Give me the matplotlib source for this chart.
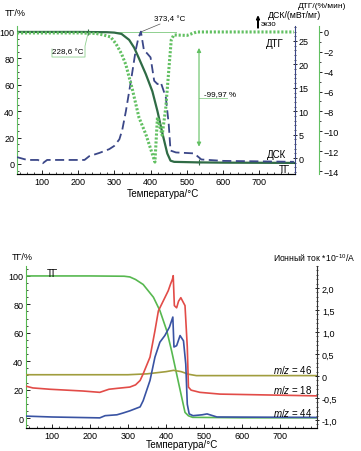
import numpy as np
import matplotlib.pyplot as plt
from matplotlib.patches import FancyArrow
from matplotlib.ticker import MultipleLocator, FixedLocator, FuncFormatter

plt.rcParams['font.family'] = ['Liberation Sans', 'DejaVu Sans']
plt.rcParams['font.size'] = 6.5
plt.rcParams['mathtext.fontset'] = 'custom'
plt.rcParams['mathtext.rm'] = 'Liberation Sans'
plt.rcParams['mathtext.it'] = 'Liberation Sans:italic'

# --- Верхний график: ТГ / ДТГ / ДСК ---
tg1_t = [32, 100, 200, 280, 300, 320, 341, 355, 368, 387, 405, 419, 432, 446, 455, 465, 530, 600, 700, 795]
tg1_v = [100, 100, 100, 99.8, 99.5, 98.5, 94, 88, 80, 68, 55, 40, 24, 8, 2.5, 1.6, 1.2, 1.0, 0.9, 0.8]

dtg_t = [32, 100, 200, 250, 270, 290, 305, 320, 332, 350, 368, 387, 405, 412, 419, 432, 442, 451, 457, 464, 500, 527, 600, 700, 795]
dtg_v = [-0.1, -0.1, -0.1, -0.15, -0.3, -0.5, -1.2, -2.2, -3.3, -5.8, -8.6, -10.3, -12.3, -13.1, -8.6, -10.4, -7.6, -3.5, -0.8, -0.3, -0.35, 0, 0, 0, 0]

dsc_t = [32, 60, 90, 103, 115, 150, 218, 231, 259, 286, 300, 314, 322, 332, 346, 359, 366, 373.4, 382, 390, 400, 410, 419, 428, 442, 450, 455, 470, 520, 540, 600, 700, 795]
dsc_v = [0.2, -0.4, -0.4, -1.1, -0.4, -0.4, -0.4, 0.4, 1.1, 1.9, 2.6, 4.0, 6.0, 10.0, 16.5, 23.0, 25.5, 27, 22.9, 22.4, 21.5, 16.5, 15.8, 16.2, 13, 7.3, 1.6, 1.2, 1.0, -0.3, -0.6, -0.7, -0.8]

# --- Нижний график: ТГ и ионные токи ---
tg2_t = [32, 200, 290, 305, 320, 340, 367, 384, 402, 415, 428, 441, 450, 459, 470, 600, 797]
tg2_v = [100, 100, 99.8, 99.3, 97.5, 94, 85, 75.6, 61.5, 47, 31, 15, 4, 1.6, 0.5, 0.2, 0.2]

mz18_t = [32, 50, 95, 182, 226, 250, 271, 305, 320, 332, 340, 358, 371, 380, 393, 406, 412, 417, 419, 422, 428, 433, 439, 450, 456, 459, 466, 489, 542, 797]
mz18_v = [-0.23, -0.27, -0.30, -0.34, -0.37, -0.30, -0.28, -0.25, -0.2, -0.1, 0.05, 0.43, 1.03, 1.48, 1.71, 1.94, 2.09, 2.2, 2.28, 1.6, 1.55, 1.7, 1.78, 1.6, 0.66, -0.25, -0.32, -0.37, -0.41, -0.45]

mz44_t = [32, 100, 226, 240, 271, 287, 305, 320, 332, 340, 358, 371, 384, 397, 409, 418, 421, 428, 437, 446, 452, 456, 461, 471, 495, 508, 534, 797]
mz44_v = [-0.91, -0.93, -0.95, -0.9, -0.88, -0.84, -0.79, -0.74, -0.7, -0.56, -0.1, 0.43, 0.77, 0.92, 1.11, 1.34, 0.66, 0.69, 0.92, 0.8, 0.27, -0.64, -0.86, -0.9, -0.88, -0.86, -0.93, -0.94]

mz46_t = [32, 300, 350, 400, 420, 440, 460, 480, 797]
mz46_v = [0.03, 0.03, 0.05, 0.1, 0.13, 0.1, 0.04, 0.01, 0.01]

xticks = [100, 200, 300, 400, 500, 600, 700]
c_tg1 = '#2f6b45'
c_dtg = '#62c062'
c_dsc = '#3b4788'
c_tg2 = '#57b850'
c_18 = '#e24c48'
c_44 = '#3953a3'
c_46 = '#a09d3e'
c_light = '#8fd08f'

fig = plt.figure(figsize=(3.61, 4.52), dpi=100)

# ===== верх =====
ax1 = fig.add_axes([17/361, 1-175/452, 278/361, 148/452])
ax1.plot(tg1_t, tg1_v, color=c_tg1, lw=1.6, zorder=3)
ax1.set_xlim(32, 798)
ax1.set_ylim(-7.6, 104.5)
ax1.set_yticks([0, 20, 40, 60, 80, 100])
ax1.yaxis.set_minor_locator(MultipleLocator(5))
ax1.set_xticks(xticks)
ax1.xaxis.set_minor_locator(MultipleLocator(20))
ax1.tick_params(direction='in', length=3, width=0.6, pad=2, labelsize=6.5)
ax1.tick_params(which='minor', direction='in', length=1.5, width=0.5)
ax1.spines['top'].set_visible(False)
ax1.spines['right'].set_visible(False)
ax1.spines['left'].set_color(c_dtg)
ax1.set_xlabel('Температура/°C', fontsize=7)
ax1.xaxis.set_label_coords(0.525, -0.095)
fig.text(5/361, 1-14/452, 'ТГ/%', fontsize=6.5, ha='left', va='center')

ax_dsc = ax1.twinx()
ax_dsc.plot(dsc_t, dsc_v, color=c_dsc, lw=1.3, ls=(0, (5, 2.5)), zorder=2)
ax_dsc.set_ylim(-3.4, 28.2)
ax_dsc.set_yticks([0, 5, 10, 15, 20, 25])
ax_dsc.yaxis.set_minor_locator(MultipleLocator(1))
ax_dsc.spines['top'].set_visible(False)
ax_dsc.spines['left'].set_visible(False)
ax_dsc.spines['right'].set_color(c_dsc)
ax_dsc.tick_params(axis='y', direction='inout', length=3, width=0.6, pad=1, labelsize=6.5)
ax_dsc.tick_params(axis='y', which='minor', direction='inout', length=1.5, width=0.5)

ax_dtg = ax1.twinx()
ax_dtg.plot(dtg_t, dtg_v, color=c_dtg, lw=2.2, ls=(0, (0.7, 0.6)), dash_capstyle='butt', zorder=1)
ax_dtg.set_ylim(-14.3, 0.6)
ax_dtg.set_yticks([0, -2, -4, -6, -8, -10, -12, -14])
ax_dtg.yaxis.set_minor_locator(MultipleLocator(1))
ax_dtg.spines['right'].set_position(('axes', 1.086))
ax_dtg.spines['right'].set_color(c_dtg)
ax_dtg.spines['top'].set_visible(False)
ax_dtg.spines['left'].set_visible(False)
ax_dtg.spines['bottom'].set_visible(False)
ax_dtg.tick_params(axis='y', direction='out', length=2.5, width=0.6, pad=1, labelsize=6.5)
ax_dtg.tick_params(axis='y', which='minor', direction='out', length=1.5, width=0.5)

# аннотации ступени
ax1.plot([228.6, 470], [100, 100], color=c_light, lw=0.7, zorder=2)
ax1.plot([228.6, 533.5], [100, 1.2], '+', color=c_tg1, ms=5, mew=0.8, zorder=4)
ax1.plot([228.6, 219.4, 219.4, 128.4, 128.4], [100, 89.3, 81.0, 81.0, 87.1], color=c_light, lw=0.6)
ax1.text(172.5, 84.8, '228,6 °C', fontsize=5.8, ha='center', va='center')
ax1.plot([373.4, 426], [100, 106], color='#555555', lw=0.5, clip_on=False)
ax1.text(453.6, 109.8, '373,4 °C', fontsize=5.8, ha='center', va='center', clip_on=False)
ax1.annotate('', xy=(533.5, 90), xytext=(533.5, 11),
             arrowprops=dict(arrowstyle='<|-|>', color=c_dtg, lw=0.8, mutation_scale=6))
ax1.plot([533.5, 610.6], [50, 50], color=c_light, lw=0.6)
ax1.text(591, 53.0, '-99,97 %', fontsize=5.8, ha='center', va='center')

ax1.text(743, 91.7, 'ДТГ', fontsize=7, ha='center', va='center')
ax1.text(746, 7.6, 'ДСК', fontsize=7, ha='center', va='center')
ax1.text(770, -3.8, 'ТГ', fontsize=7, ha='center', va='center')
fig.text(298/361, 1-7/452, 'ДТГ/(%/мин)', fontsize=6, ha='left', va='center')
fig.text(268/361, 1-16/452, 'ДСК/(мВт/мг)', fontsize=6.3, ha='left', va='center')
fig.text(261/361, 1-25/452, 'экзо', fontsize=5.8, ha='left', va='center')
fig.patches.append(FancyArrow(258/361, 1-29/452, 0, 8/452, width=0.0015,
                   head_width=0.008, head_length=0.008, color='black', transform=fig.transFigure, figure=fig))

# ===== низ =====
ax2 = fig.add_axes([26/361, 1-429/452, 291/361, 162/452])
ax2.plot(tg2_t, tg2_v, color=c_tg2, lw=1.2, zorder=3)
ax2.set_xlim(32, 797)
ax2.set_ylim(-7, 107)
ax2.set_yticks([0, 20, 40, 60, 80, 100])
ax2.yaxis.set_minor_locator(MultipleLocator(5))
ax2.set_xticks(xticks)
ax2.xaxis.set_minor_locator(MultipleLocator(20))
ax2.tick_params(direction='in', length=3, width=0.6, pad=2, labelsize=6.5)
ax2.tick_params(which='minor', direction='in', length=1.5, width=0.5)
ax2.spines['top'].set_visible(False)
ax2.spines['right'].set_visible(False)
ax2.spines['left'].set_color(c_tg2)
ax2.set_xlabel('Температура/°C', fontsize=7)
ax2.xaxis.set_label_coords(0.536, -0.065)
fig.text(12/361, 1-257/452, 'ТГ/%', fontsize=6.5, ha='left', va='center')
ax2.text(100, 102, 'ТГ', fontsize=7, ha='center', va='center')

ax_ion = ax2.twinx()
ax_ion.plot(mz46_t, mz46_v, color=c_46, lw=1.2, zorder=1)
ax_ion.plot(mz18_t, mz18_v, color=c_18, lw=1.2, zorder=2)
ax_ion.plot(mz44_t, mz44_v, color=c_44, lw=1.2, zorder=3)
ax_ion.set_ylim(-1.18, 2.5)
ax_ion.yaxis.set_major_locator(FixedLocator([-1.0, -0.5, 0, 0.5, 1.0, 1.5, 2.0]))
ax_ion.yaxis.set_major_formatter(FuncFormatter(lambda v, p: '0' if abs(v) < 1e-9 else f'{v:.1f}'.replace('.', ',')))
ax_ion.yaxis.set_minor_locator(MultipleLocator(0.1))
ax_ion.spines['top'].set_visible(False)
ax_ion.spines['left'].set_visible(False)
ax_ion.spines['right'].set_color('#333333')
ax_ion.tick_params(axis='y', direction='inout', length=3, width=0.6, pad=2, labelsize=6.5)
ax_ion.tick_params(axis='y', which='minor', direction='inout', length=1.5, width=0.5)
ax_ion.text(785, 0.06, '$m/z$ = 46', fontsize=7, ha='right')
ax_ion.text(785, -0.39, '$m/z$ = 18', fontsize=7, ha='right')
ax_ion.text(785, -0.90, '$m/z$ = 44', fontsize=7, ha='right')
fig.text(273/361, 1-258/452, 'Ионный ток *10$^{-10}$/A', fontsize=6.2, ha='left', va='center')

fig.savefig('out.png', dpi=100)
